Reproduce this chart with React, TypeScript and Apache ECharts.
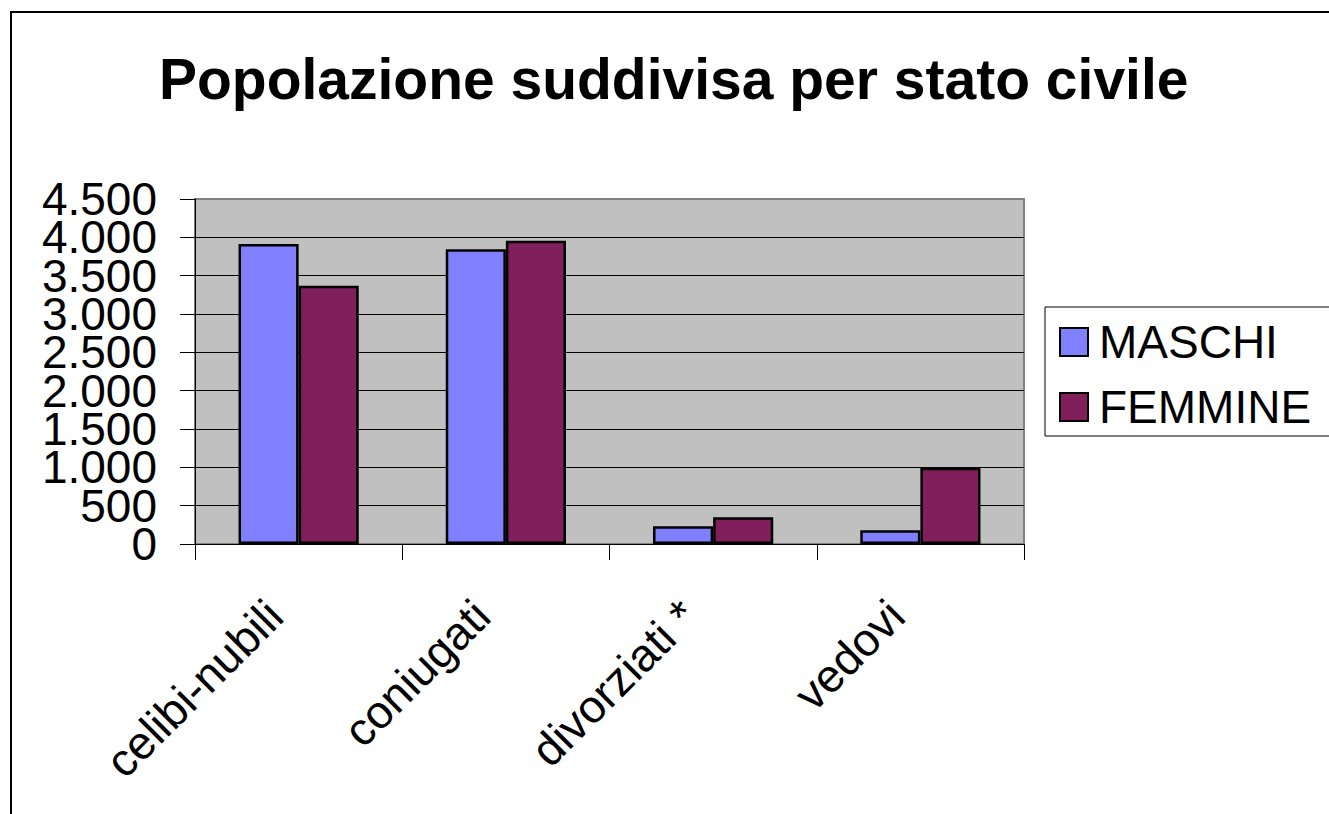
import React, { useEffect, useRef } from "react";
import * as echarts from "echarts";

const title = "Popolazione suddivisa per stato civile";
const categories = ["celibi-nubili", "coniugati", "divorziati *", "vedovi"];
const maschi = [3913, 3844, 231, 179];
const femmine = [3369, 3956, 348, 995];
const seriesNames = ["MASCHI", "FEMMINE"];
const yMax = 4500;
const yStep = 500;

const FONT = "'Liberation Sans', Arial, sans-serif";

export default function App() {
  const ref = useRef<HTMLDivElement>(null);
  useEffect(() => {
    if (!ref.current) return;
    const chart = echarts.init(ref.current, null, { renderer: "svg" });
    const splitColors = Array.from({ length: yMax / yStep + 1 }, (_, i) =>
      i === yMax / yStep ? "#808080" : "#000000"
    );
    const fmt = (v: number) => v.toLocaleString("it-IT").replace(/,/g, ".");
    const plotTop = 199;
    const plotBottom = 270;
    const plotH = 814 - plotTop - plotBottom;
    const stepPx = (plotH * yStep) / yMax;
    const labelAxisBase = {
      type: "value",
      position: "left",
      offset: 0,
      axisLine: { show: false },
      axisTick: { show: false },
      splitLine: { show: false },
    };
    const labelStyle = {
      margin: 38,
      fontFamily: FONT,
      fontSize: 46,
      color: "#000",
      hideOverlap: false,
    };
    const legendBase = {
      orient: "vertical",
      left: 1059,
      padding: 0,
      icon: "rect",
      itemWidth: 28,
      itemHeight: 28,
      textStyle: { fontFamily: FONT, fontSize: 46, color: "#000", padding: [0, 0, 0, 6] },
    };
    chart.setOption({
      animation: false,
      backgroundColor: "#ffffff",
      title: {
        text: title,
        left: 159,
        top: 50,
        padding: 0,
        textStyle: { fontFamily: FONT, fontSize: 57, fontWeight: "bold", color: "#000" },
      },
      legend: [
        { ...legendBase, top: 319, data: [seriesNames[0]] },
        { ...legendBase, top: 384, data: [seriesNames[1]] },
      ],
      grid: [
        {
          left: 195,
          top: plotTop,
          right: 305,
          bottom: plotBottom,
          show: true,
          backgroundColor: "#c0c0c0",
          borderColor: "#808080",
          borderWidth: 2,
        },
        {
          left: 195,
          top: plotTop,
          right: 305,
          bottom: plotBottom - stepPx,
          show: false,
        },
      ],
      xAxis: [
        {
          type: "category",
          gridIndex: 0,
          data: categories,
          axisLine: { show: true, lineStyle: { color: "#000", width: 1 } },
          axisTick: { show: true, length: 16, lineStyle: { color: "#000" } },
          axisLabel: {
            rotate: 45,
            margin: 40,
            padding: [0, 34, 0, 0],
            fontFamily: FONT,
            fontSize: 46,
            color: "#000",
            interval: 0,
          },
        },
        { type: "category", gridIndex: 1, data: categories, show: false },
      ],
      yAxis: [
        {
          type: "value",
          gridIndex: 0,
          position: "left",
          min: 0,
          max: yMax,
          interval: yStep,
          axisLine: { show: true, lineStyle: { color: "#000", width: 1 } },
          axisTick: { show: true, length: 15, lineStyle: { color: "#000" } },
          splitLine: { show: true, lineStyle: { color: splitColors, width: 1 } },
          axisLabel: { show: false },
        },
        {
          ...labelAxisBase,
          gridIndex: 0,
          min: 0,
          max: yMax,
          interval: yStep * 2,
          axisLabel: { ...labelStyle, showMinLabel: true, showMaxLabel: false, formatter: fmt },
        },
        {
          ...labelAxisBase,
          gridIndex: 1,
          min: 0,
          max: yMax + yStep,
          interval: yStep * 2,
          axisLabel: {
            ...labelStyle,
            showMinLabel: false,
            showMaxLabel: true,
            formatter: (v: number) => fmt(v - yStep),
          },
        },
      ],
      graphic: [
        {
          type: "rect",
          shape: { x: 11, y: 12, width: 1400, height: 900 },
          style: { fill: "none", stroke: "#000", lineWidth: 2 },
          silent: true,
          z: -10,
        },
        {
          type: "rect",
          shape: { x: 1045, y: 307, width: 300, height: 129 },
          style: { fill: "#fff", stroke: "#000", lineWidth: 1 },
          silent: true,
          z: -1,
        },
      ],
      series: [
        {
          name: seriesNames[0],
          type: "bar",
          xAxisIndex: 0,
          yAxisIndex: 0,
          data: maschi,
          barGap: "0%",
          barCategoryGap: "42%",
          itemStyle: { color: "#8080ff", borderColor: "#000", borderWidth: 2.5 },
        },
        {
          name: seriesNames[1],
          type: "bar",
          xAxisIndex: 0,
          yAxisIndex: 0,
          data: femmine,
          barGap: "0%",
          barCategoryGap: "42%",
          itemStyle: { color: "#801f5c", borderColor: "#000", borderWidth: 2.5 },
        },
      ],
    });
    return () => chart.dispose();
  }, []);
  return (
    <div
      ref={ref}
      style={{ position: "fixed", left: 0, top: 0, width: 1329, height: 814 }}
    />
  );
}
